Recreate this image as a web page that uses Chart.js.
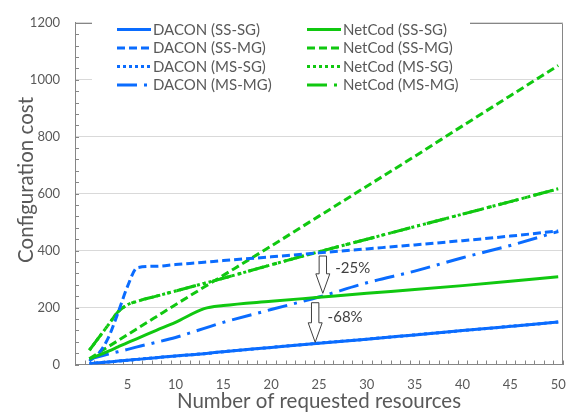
<!DOCTYPE html>
<html>
<head>
<meta charset="utf-8">
<script src="https://cdn.jsdelivr.net/npm/chart.js@4/dist/chart.umd.min.js"></script>
<style>
  html, body { margin: 0; padding: 0; background: #ffffff; }
  canvas { display: block; }
</style>
</head>
<body>
<canvas id="chart" width="581" height="416"></canvas>
<script>
// Number of requested resources at which each configuration was evaluated
const resources = [1, 2, 3, 4, 5, 6, 8, 10, 13, 15, 20, 25, 30, 35, 40, 45, 50];

// Configuration cost per scheme
const daconSsSg  = [3, 6, 9, 12, 15, 18, 24, 30, 38, 45, 60, 75, 89, 104, 119, 134, 149];
const daconSsMg  = [12, 40, 95, 182, 275, 340, 345, 351, 359, 365, 378, 392, 406, 420, 435, 451, 469];
const daconMsSg  = [3, 6, 9, 12, 15, 18, 24, 30, 38, 45, 60, 75, 89, 104, 119, 134, 149];
const daconMsMg  = [20, 28, 37, 45, 53, 62, 78, 95, 127, 148, 193, 237, 287, 328, 375, 418, 467];
const netcodSsSg = [20, 33, 47, 62, 77, 91, 120, 148, 196, 207, 222, 236, 250, 263, 277, 292, 308];
const netcodSsMg = [20, 42, 63, 84, 105, 126, 168, 210, 272, 313, 416, 521, 626, 731, 838, 944, 1050];
const netcodMsSg = [50, 95, 140, 185, 210, 222, 240, 258, 285, 303, 350, 396, 440, 484, 528, 572, 617];
const netcodMsMg = [50, 95, 140, 185, 210, 222, 240, 258, 285, 303, 350, 396, 440, 484, 528, 572, 617];

// Axis ticks
const xTickLabels = [5, 10, 15, 20, 25, 30, 35, 40, 45, 50];
const yTicks = [0, 200, 400, 600, 800, 1000, 1200];

// Reduction call-outs at 25 resources: arrow from one cost level down to another
const reductionLabels = ['-25%', '-68%'];
const reductionX      = [25.4, 24.6];
const reductionFrom   = [381, 217];
const reductionTo     = [250, 78];
const reductionTextX  = [26.7, 25.9];
const reductionTextY  = [337, 165];

const BLUE = '#0a6cff';
const GREEN = '#10c810';
const TEXT = '#595959';
const AXIS = '#868686';
const GRID = '#d9d9d9';
const FONT = 'Lato, "Open Sans", sans-serif';

const DASH = {
  solid: [],
  dash: [8, 4],
  dot: [3, 3],
  dashDot: [20, 7, 3, 7]
};

function pts(values) {
  return resources.map((r, i) => ({ x: r, y: values[i] }));
}

function series(label, values, color, dash, column, row) {
  return {
    label,
    data: pts(values),
    borderColor: color,
    backgroundColor: color,
    borderWidth: 3,
    borderDash: dash,
    borderCapStyle: 'butt',
    borderJoinStyle: 'round',
    pointRadius: 0,
    pointHoverRadius: 0,
    fill: false,
    cubicInterpolationMode: 'monotone',
    legendColumn: column,
    legendRow: row
  };
}

// Earlier datasets are painted on top of later ones
const datasets = [
  series('DACON (SS-SG)', daconSsSg, BLUE, DASH.solid, 0, 0),
  series('NetCod (SS-SG)', netcodSsSg, GREEN, DASH.solid, 1, 0),
  series('DACON (SS-MG)', daconSsMg, BLUE, DASH.dash, 0, 1),
  series('NetCod (SS-MG)', netcodSsMg, GREEN, DASH.dash, 1, 1),
  series('DACON (MS-MG)', daconMsMg, BLUE, DASH.dashDot, 0, 3),
  series('NetCod (MS-MG)', netcodMsMg, GREEN, DASH.dashDot, 1, 3),
  series('DACON (MS-SG)', daconMsSg, BLUE, DASH.dot, 0, 2),
  series('NetCod (MS-SG)', netcodMsSg, GREEN, DASH.dot, 1, 2)
];

const decor = {
  id: 'decor',
  beforeDatasetsDraw(chart) {
    const { ctx, chartArea: a, scales: { x, y } } = chart;
    ctx.save();
    ctx.strokeStyle = AXIS;
    ctx.lineWidth = 1;
    // top and right edges of the plot frame
    ctx.beginPath();
    ctx.moveTo(a.left, Math.round(a.top) + 0.5);
    ctx.lineTo(Math.round(a.right) - 0.5, Math.round(a.top) + 0.5);
    ctx.lineTo(Math.round(a.right) - 0.5, a.bottom);
    ctx.stroke();
    // inner minor tick marks
    ctx.beginPath();
    for (let v = 0; v <= 1200; v += 40) {
      const py = Math.round(y.getPixelForValue(v)) + 0.5;
      ctx.moveTo(a.left, py);
      ctx.lineTo(a.left + 4, py);
    }
    for (let k = -0.5; k <= 50.5; k += 1) {
      const px = Math.round(x.getPixelForValue(k)) + 0.5;
      ctx.moveTo(px, a.bottom);
      ctx.lineTo(px, a.bottom - 4);
    }
    ctx.stroke();
    ctx.restore();
  },
  afterDatasetsDraw(chart) {
    const { ctx, scales: { x, y } } = chart;
    ctx.save();

    // reduction arrows
    for (let i = 0; i < reductionLabels.length; i++) {
      const cx = x.getPixelForValue(reductionX[i]);
      const yTop = y.getPixelForValue(reductionFrom[i]);
      const yTip = y.getPixelForValue(reductionTo[i]);
      const sw = 3.7, hw = 7, hl = 19.5;
      ctx.beginPath();
      ctx.moveTo(cx - sw, yTop);
      ctx.lineTo(cx + sw, yTop);
      ctx.lineTo(cx + sw, yTip - hl);
      ctx.lineTo(cx + hw, yTip - hl);
      ctx.lineTo(cx, yTip);
      ctx.lineTo(cx - hw, yTip - hl);
      ctx.lineTo(cx - sw, yTip - hl);
      ctx.closePath();
      ctx.fillStyle = '#ffffff';
      ctx.fill();
      ctx.strokeStyle = '#404040';
      ctx.lineWidth = 1;
      ctx.stroke();

      ctx.fillStyle = '#404040';
      ctx.font = '15px ' + FONT;
      ctx.textAlign = 'left';
      ctx.textBaseline = 'middle';
      ctx.fillText(reductionLabels[i], x.getPixelForValue(reductionTextX[i]), y.getPixelForValue(reductionTextY[i]));
    }

    // legend panel
    ctx.fillStyle = '#ffffff';
    ctx.fillRect(92, 18, 378, 78);
    const lineStart = [117, 307];
    const rowY = [29.5, 48, 66.5, 85];
    ctx.font = '15px ' + FONT;
    ctx.textAlign = 'left';
    ctx.textBaseline = 'middle';
    chart.data.datasets.forEach(ds => {
      const x0 = lineStart[ds.legendColumn];
      const yy = rowY[ds.legendRow];
      ctx.save();
      ctx.strokeStyle = ds.borderColor;
      ctx.lineWidth = 3;
      ctx.lineCap = 'butt';
      ctx.setLineDash(ds.borderDash);
      ctx.beginPath();
      ctx.moveTo(x0, yy);
      ctx.lineTo(x0 + 34, yy);
      ctx.stroke();
      ctx.restore();
      ctx.fillStyle = TEXT;
      ctx.fillText(ds.label, x0 + 36, yy + 0.5);
    });
    ctx.restore();
  },
  afterDraw(chart) {
    const { ctx } = chart;
    ctx.save();
    ctx.fillStyle = TEXT;
    ctx.font = '20.5px ' + FONT;
    ctx.textAlign = 'center';
    ctx.textBaseline = 'middle';
    ctx.fillText('Number of requested resources', 319, 401);
    ctx.translate(26, 180);
    ctx.rotate(-Math.PI / 2);
    ctx.fillText('Configuration cost', 0, 0);
    ctx.restore();
  }
};

new Chart(document.getElementById('chart'), {
  type: 'line',
  data: { datasets },
  options: {
    responsive: false,
    animation: false,
    devicePixelRatio: 1,
    layout: { padding: { left: 0, right: 18, top: 13, bottom: 0 } },
    plugins: {
      legend: { display: false },
      tooltip: { enabled: false }
    },
    scales: {
      x: {
        type: 'linear',
        min: -0.5,
        max: 50.5,
        afterBuildTicks(scale) {
          scale.ticks = xTickLabels.map(v => ({ value: v }));
        },
        afterFit(scale) { scale.height = 51.5; },
        grid: { display: false, drawTicks: false },
        border: { display: true, color: AXIS, width: 1 },
        ticks: {
          autoSkip: false,
          maxRotation: 0,
          padding: 13,
          color: TEXT,
          font: { family: FONT, size: 13 },
          callback: v => String(v)
        }
      },
      y: {
        type: 'linear',
        min: 0,
        max: 1200,
        afterBuildTicks(scale) {
          scale.ticks = yTicks.map(v => ({ value: v }));
        },
        afterFit(scale) { scale.width = 75; },
        grid: { color: GRID, lineWidth: 1, drawTicks: false },
        border: { display: true, color: AXIS, width: 1 },
        ticks: {
          padding: 15,
          color: TEXT,
          font: { family: FONT, size: 13 },
          callback: v => String(v)
        }
      }
    }
  },
  plugins: [decor]
});
</script>
</body>
</html>
